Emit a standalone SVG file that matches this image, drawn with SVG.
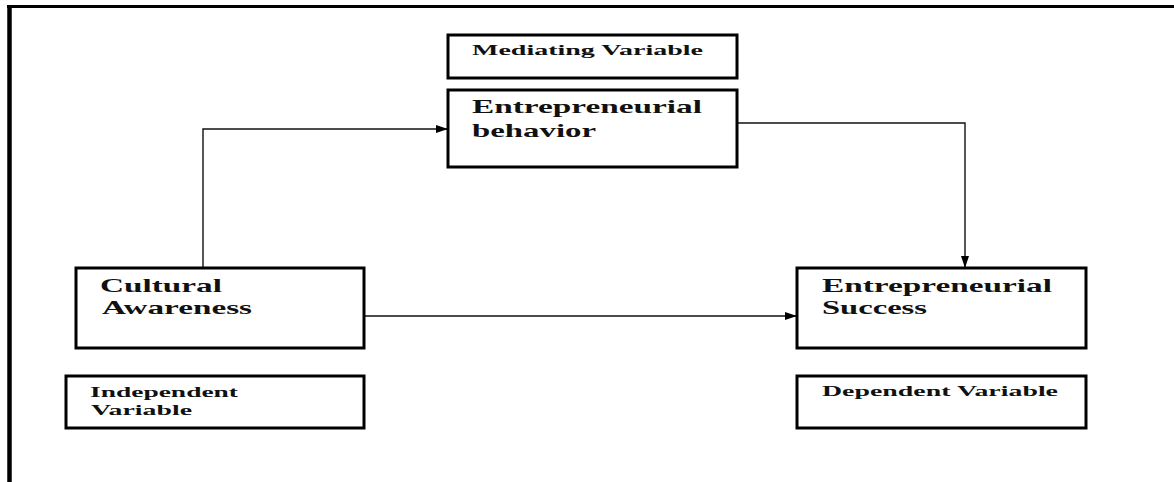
<svg xmlns="http://www.w3.org/2000/svg" width="1174" height="482" viewBox="0 0 1174 482">
<style>
.box{fill:#fff;stroke:#000;stroke-width:3}
text{font-family:"Liberation Serif","DejaVu Serif",serif;font-weight:bold;fill:#111}
.big{font-size:19px}
.small{font-size:15px}
.conn{fill:none;stroke:#111;stroke-width:1.4}
</style>
<defs>
<marker id="arr" viewBox="0 0 12 8" refX="12" refY="4" markerWidth="12" markerHeight="8" markerUnits="userSpaceOnUse" orient="auto">
<path d="M0,0 L12,4 L0,8 Z" fill="#000"/>
</marker>
</defs>
<rect width="1174" height="482" fill="#fff"/>
<g id="frame">
<line x1="7" y1="6.5" x2="1174" y2="6.5" stroke="#000" stroke-width="3"/>
<line x1="9.5" y1="5" x2="9.5" y2="482" stroke="#000" stroke-width="4.5"/>
</g>
<g id="connectors">
<path class="conn" d="M203,268 L203,129 L448,129" marker-end="url(#arr)"/>
<path class="conn" d="M737,123 L965,123 L965,268" marker-end="url(#arr)"/>
<path class="conn" d="M364,316 L797,316" marker-end="url(#arr)"/>
</g>
<g id="mediating-label">
<rect class="box" x="448" y="35" width="289" height="43"/>
<text class="small" x="472" y="55" textLength="231" lengthAdjust="spacingAndGlyphs">Mediating Variable</text>
</g>
<g id="entrepreneurial-behavior">
<rect class="box" x="448" y="90" width="289" height="77"/>
<text class="big" x="472" y="113" textLength="230" lengthAdjust="spacingAndGlyphs">Entrepreneurial</text>
<text class="big" x="472" y="137" textLength="124" lengthAdjust="spacingAndGlyphs">behavior</text>
</g>
<g id="cultural-awareness">
<rect class="box" x="76" y="268" width="288" height="80"/>
<text class="big" x="100" y="292" textLength="122" lengthAdjust="spacingAndGlyphs">Cultural</text>
<text class="big" x="102" y="314" textLength="150" lengthAdjust="spacingAndGlyphs">Awareness</text>
</g>
<g id="independent-label">
<rect class="box" x="66" y="376" width="298" height="52"/>
<text class="small" x="90" y="397" textLength="148" lengthAdjust="spacingAndGlyphs">Independent</text>
<text class="small" x="91" y="415" textLength="101" lengthAdjust="spacingAndGlyphs">Variable</text>
</g>
<g id="entrepreneurial-success">
<rect class="box" x="797" y="268" width="289" height="80"/>
<text class="big" x="822" y="292" textLength="230" lengthAdjust="spacingAndGlyphs">Entrepreneurial</text>
<text class="big" x="822" y="314" textLength="105" lengthAdjust="spacingAndGlyphs">Success</text>
</g>
<g id="dependent-label">
<rect class="box" x="797" y="376" width="289" height="52"/>
<text class="small" x="822" y="396" textLength="236" lengthAdjust="spacingAndGlyphs">Dependent Variable</text>
</g>
</svg>
